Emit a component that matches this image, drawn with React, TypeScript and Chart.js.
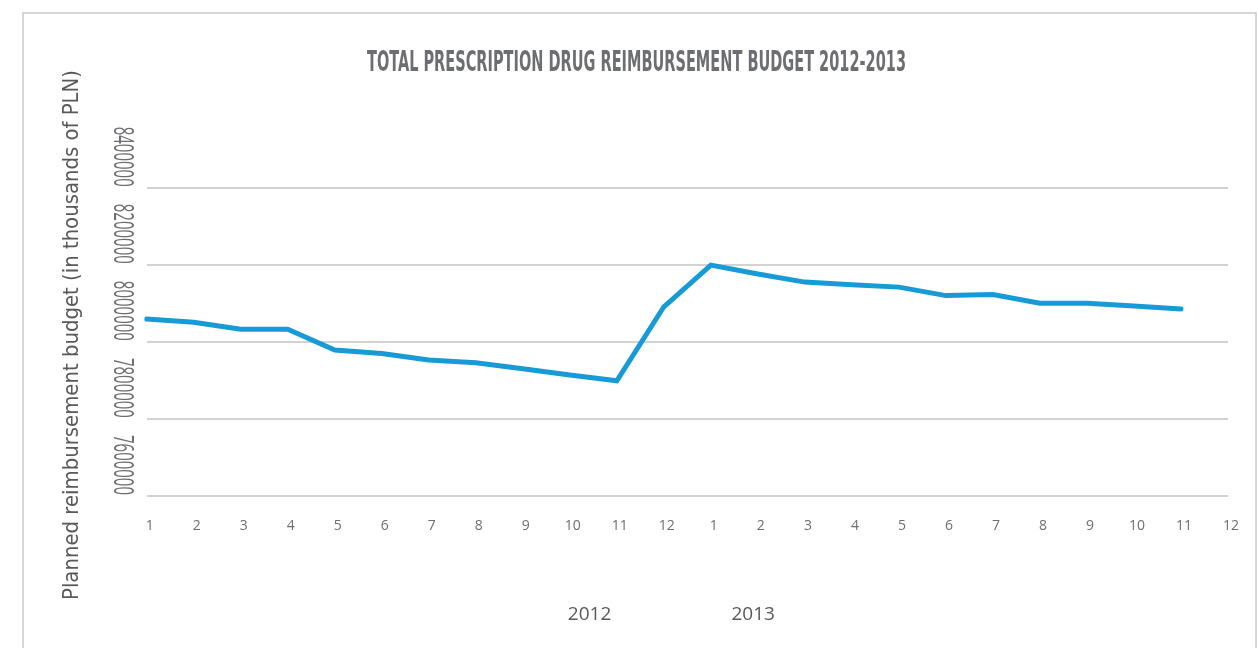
import React, { useEffect, useRef } from 'react';
import { Chart, registerables } from 'chart.js';

Chart.register(...registerables);

// ---- data ----
const monthLabels = [
  '1', '2', '3', '4', '5', '6', '7', '8', '9', '10', '11', '12',
  '1', '2', '3', '4', '5', '6', '7', '8', '9', '10', '11', '12',
];
const budget: (number | null)[] = [
  8059000, 8051000, 8033000, 8033000, 7979000, 7970000, 7953000, 7946000, 7930000, 7914000, 7899000, 8091000,
  8199000, 8176000, 8155000, 8148000, 8142000, 8120000, 8123000, 8100000, 8100000, 8093000, 8085000, null,
];
const yTicks = [7600000, 7800000, 8000000, 8200000, 8400000];
const yTickLabels = ['7600000', '7800000', '8000000', '8200000', '8400000'];
const yearLabels = ['2012', '2013'];
const chartTitle = 'TOTAL PRESCRIPTION DRUG REIMBURSEMENT BUDGET 2012-2013';
const yAxisTitle = 'Planned reimbursement budget (in thousands of PLN)';

const GREY = '#6d6e71';
const DARK_GREY = '#58595b';

const decorPlugin = {
  id: 'decor',
  beforeDraw(chart: any) {
    const ctx = chart.ctx as CanvasRenderingContext2D;
    ctx.save();
    ctx.strokeStyle = '#c9c9c9';
    ctx.lineWidth = 1.5;
    ctx.strokeRect(23, 13, 1233, 700);
    ctx.restore();
  },
  afterDraw(chart: any) {
    const ctx = chart.ctx as CanvasRenderingContext2D;
    const yScale = chart.scales.y;
    const xScale = chart.scales.x;

    // title
    ctx.save();
    ctx.fillStyle = GREY;
    ctx.font = 'bold 28px "Liberation Sans Narrow", "DejaVu Sans Condensed", sans-serif';
    ctx.textAlign = 'center';
    ctx.textBaseline = 'alphabetic';
    ctx.fillText(chartTitle, 636.5, 71, 539);
    ctx.restore();

    // y axis title
    ctx.save();
    ctx.fillStyle = DARK_GREY;
    ctx.font = '20.5px "DejaVu Sans", "Open Sans", sans-serif';
    ctx.translate(78, 335);
    ctx.rotate(-Math.PI / 2);
    ctx.textAlign = 'center';
    ctx.textBaseline = 'alphabetic';
    ctx.fillText(yAxisTitle, 0, 0, 530);
    ctx.restore();

    // y tick labels (rotated clockwise, ending at gridline)
    yTicks.forEach((v, i) => {
      const py = yScale.getPixelForValue(v);
      ctx.save();
      ctx.fillStyle = GREY;
      ctx.font = '28px "Open Sans", "DejaVu Sans", sans-serif';
      ctx.translate(113.5, py - 1);
      ctx.rotate(Math.PI / 2);
      ctx.textAlign = 'right';
      ctx.textBaseline = 'alphabetic';
      ctx.fillText(yTickLabels[i], 0, 0, 60);
      ctx.restore();
    });

    // year labels
    const yearPos = [9.42, 12.9];
    yearLabels.forEach((t, i) => {
      const px = xScale.getPixelForValue(yearPos[i]);
      ctx.save();
      ctx.fillStyle = DARK_GREY;
      ctx.font = '19px "Open Sans", "DejaVu Sans", sans-serif';
      ctx.textAlign = 'center';
      ctx.textBaseline = 'middle';
      ctx.fillText(t, px, 615);
      ctx.restore();
    });
  },
};

export default function App() {
  const ref = useRef<HTMLCanvasElement | null>(null);

  useEffect(() => {
    if (!ref.current) return;
    const chart = new Chart(ref.current, {
      type: 'line',
      data: {
        labels: monthLabels,
        datasets: [
          {
            data: budget,
            borderColor: '#179bd7',
            backgroundColor: '#179bd7',
            borderWidth: 5,
            pointRadius: 0,
            pointHoverRadius: 0,
            tension: 0,
            fill: false,
            borderCapStyle: 'round',
            borderJoinStyle: 'miter',
            spanGaps: false,
          },
        ],
      },
      options: {
        animation: false,
        responsive: true,
        maintainAspectRatio: false,
        layout: { padding: { left: 146.7, right: 25, top: 187.7, bottom: 112 } },
        plugins: {
          legend: { display: false },
          tooltip: { enabled: false },
          title: { display: false },
        },
        scales: {
          x: {
            offset: false,
            grid: { display: false, drawTicks: false },
            border: { display: false },
            ticks: {
              autoSkip: false,
              maxRotation: 0,
              minRotation: 0,
              padding: 22,
              labelOffset: 3,
              color: GREY,
              font: { family: '"Open Sans", "DejaVu Sans", sans-serif', size: 14 },
            },
            afterFit: (s: any) => {
              s.height = 40;
            },
          },
          y: {
            min: 7600000,
            max: 8400000,
            ticks: { display: false, stepSize: 200000 },
            grid: { color: '#d2d2d2', lineWidth: 2, drawTicks: false },
            border: { display: false },
            afterFit: (s: any) => {
              s.width = 0;
            },
          },
        },
      },
      plugins: [decorPlugin],
    });
    return () => chart.destroy();
  }, []);

  return (
    <div style={{ position: 'absolute', left: 0, top: 0, width: 1258, height: 648, background: '#fff' }}>
      <canvas ref={ref} />
    </div>
  );
}
